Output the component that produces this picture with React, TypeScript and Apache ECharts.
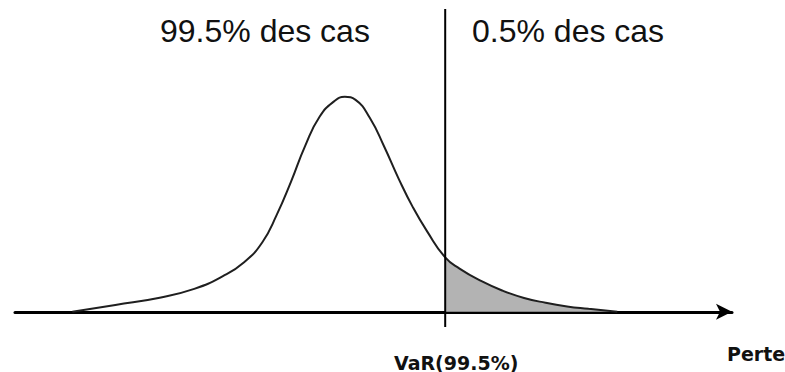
import React, { useEffect, useRef } from "react";
import * as echarts from "echarts";

// Loss distribution curve (x: loss, y: density, arbitrary units)
const curveX = [8, 14, 20, 25, 29, 32, 34.5, 36.5, 38.5, 40.5, 42.5, 44.5, 46, 47.5, 49.5, 51.5, 53.5, 55.5, 57.5, 60, 62, 65, 68, 71, 74, 77, 80, 84];
const curveY = [0, 2.3, 4.6, 7.6, 11.8, 16.5, 23, 32, 43, 55, 64.5, 69.5, 71, 70, 64, 54.5, 44, 34.5, 26.5, 18, 14.3, 10.2, 7, 4.6, 3, 1.8, 1, 0];
const varValue = 60;
const varLabel = "VaR(99.5%)";
const axisName = "Perte";
const leftText = "99.5% des cas";
const rightText = "0.5% des cas";

export default function App() {
  const ref = useRef<HTMLDivElement>(null);
  useEffect(() => {
    if (!ref.current) return;
    const chart = echarts.init(ref.current, null, { renderer: "svg" });
    const curve = curveX.map((x, i) => [x, curveY[i]]);
    const tail = curve.filter((p) => p[0] >= varValue);
    chart.setOption({
      animation: false,
      backgroundColor: "#ffffff",
      grid: { left: 15, right: 53, top: 9, bottom: 34 },
      xAxis: {
        type: "value",
        min: 0,
        max: 100,
        splitLine: { show: false },
        axisTick: { show: false },
        axisLine: {
          onZero: true,
          symbol: ["none", "arrow"],
          symbolSize: [12, 16],
          lineStyle: { color: "#000", width: 3 },
        },
        axisLabel: {
          customValues: [varValue],
          formatter: () => varLabel,
          margin: 26,
          padding: [0, 0, 0, 22],
          color: "#111",
          fontFamily: "DejaVu Sans",
          fontWeight: "bold",
          fontSize: 19,
        },
      },
      yAxis: {
        type: "value",
        min: -5,
        max: 100,
        show: false,
      },
      series: [
        {
          type: "line",
          data: tail,
          smooth: 0.5,
          showSymbol: false,
          lineStyle: { width: 0 },
          areaStyle: { color: "#b3b3b3", opacity: 1 },
          z: 1,
        },
        {
          type: "line",
          data: curve,
          smooth: 0.5,
          showSymbol: false,
          lineStyle: { color: "#1f1f1f", width: 2 },
          z: 2,
        },
        {
          type: "line",
          data: [
            [varValue, -5],
            [varValue, 100],
          ],
          showSymbol: false,
          lineStyle: { color: "#000", width: 2 },
          z: 3,
        },
      ],
      graphic: [
        {
          type: "text",
          left: 160,
          top: 15,
          style: { text: leftText, fill: "#111", font: "32px 'Liberation Sans', Arial, sans-serif" },
        },
        {
          type: "text",
          left: 472,
          top: 15,
          style: { text: rightText, fill: "#111", font: "32px 'Liberation Sans', Arial, sans-serif" },
        },
        {
          type: "text",
          left: 727,
          top: 344,
          style: { text: axisName, fill: "#111", font: "bold 19px 'DejaVu Sans', sans-serif" },
        },
      ],
    });
    return () => chart.dispose();
  }, []);
  return <div ref={ref} style={{ width: 785, height: 372, position: "absolute", left: 0, top: 0 }} />;
}
